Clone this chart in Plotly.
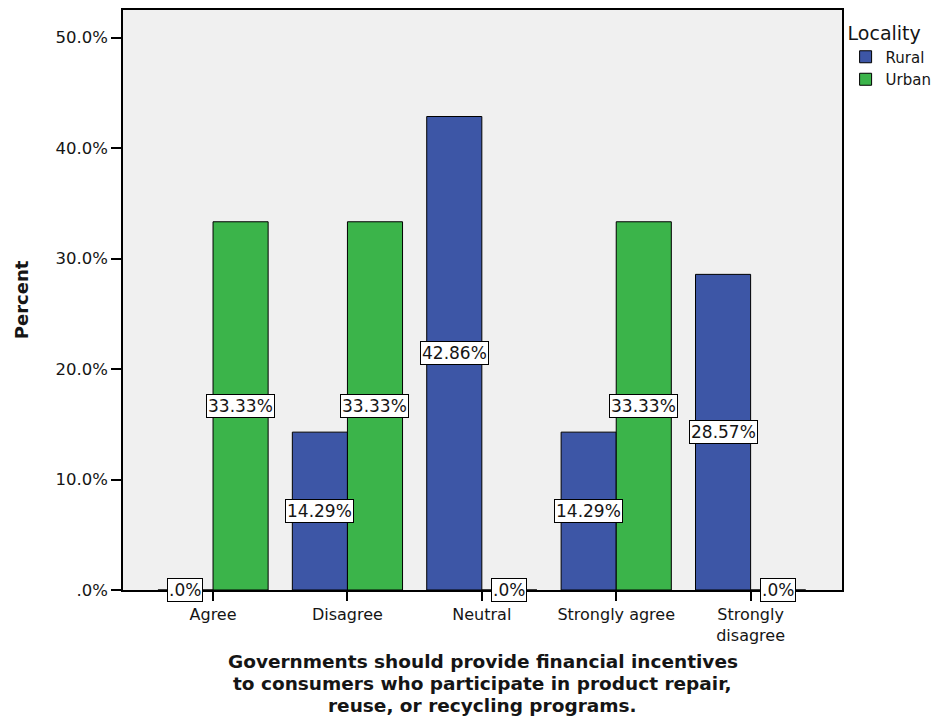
import plotly.graph_objects as go

categories = ["Agree", "Disagree", "Neutral", "Strongly agree", "Strongly disagree"]
tick_labels = ["Agree", "Disagree", "Neutral", "Strongly agree", "Strongly<br>disagree"]
rural = [0.0, 14.29, 42.86, 14.29, 28.57]
urban = [33.33, 33.33, 0.0, 33.33, 0.0]
y_ticks = [0, 10, 20, 30, 40, 50]
y_tick_text = [".0%", "10.0%", "20.0%", "30.0%", "40.0%", "50.0%"]
x_title_lines = ["Governments should provide financial incentives",
                 "to consumers who participate in product repair,",
                 "reuse, or recycling programs."]

BLUE = "#3D56A6"
GREEN = "#3BB44A"
FONT = "DejaVu Sans"
TXT = "#151515"

# page body adds an 8px offset; margins compensate
ML, MT, MB = 115, 2, 135
H = 717
PLOT_H = H - MT - MB

fig = go.Figure()
fig.add_trace(go.Bar(name="Rural", x=list(range(len(categories))), y=rural,
                     marker=dict(color=BLUE, line=dict(color="black", width=1))))
fig.add_trace(go.Bar(name="Urban", x=list(range(len(categories))), y=urban,
                     marker=dict(color=GREEN, line=dict(color="black", width=1))))

def fmt(v):
    return ".0%" if v == 0 else f"{v:.2f}%"

annotations = []
half = 0.41 / 2
for i in range(len(categories)):
    for vals, off in ((rural, -half), (urban, half)):
        v = vals[i]
        annotations.append(dict(
            x=i + off, y=v / 2, xref="x", yref="y", text=fmt(v), showarrow=False,
            font=dict(family=FONT, size=17, color=TXT),
            bgcolor="white", bordercolor="black", borderwidth=1, borderpad=1,
            xanchor="center", yanchor="middle"))

# x-axis title lines, centred at screen y 661, 683, 705 (figure y minus 8)
for k, line in enumerate(x_title_lines):
    fy = 661 + 22 * k - 8
    annotations.append(dict(
        x=0.5, y=(H - MB - fy) / PLOT_H, xref="paper", yref="paper",
        text="<b>" + line + "</b>", showarrow=False,
        xanchor="center", yanchor="middle",
        font=dict(family=FONT, size=18.5, color=TXT)))

fig.update_layout(
    width=940, height=H,
    margin=dict(l=ML, r=106, t=MT, b=MB, autoexpand=False),
    paper_bgcolor="white", plot_bgcolor="#F0F0F0",
    barmode="group", bargap=0.18, bargroupgap=0,
    font=dict(family=FONT, color=TXT),
    showlegend=True,
    legend=dict(title=dict(text="Locality", font=dict(family=FONT, size=19)),
                font=dict(family=FONT, size=15),
                x=1.005, y=0.99, xanchor="left", yanchor="top",
                bgcolor="rgba(0,0,0,0)", tracegroupgap=0),
    annotations=annotations,
)
fig.update_xaxes(
    range=[-0.67, 4.68], tickmode="array", tickvals=list(range(len(categories))),
    ticktext=tick_labels, tickfont=dict(family=FONT, size=16),
    ticks="outside", ticklen=9, tickcolor="black", tickwidth=1.5,
    showline=True, linecolor="black", linewidth=1.5, mirror=True,
    showgrid=False, zeroline=False, automargin=False)
fig.update_yaxes(
    range=[0, 52.5], tickmode="array", tickvals=y_ticks, ticktext=y_tick_text,
    tickfont=dict(family=FONT, size=16.5),
    ticks="outside", ticklen=10, tickcolor="black", tickwidth=1.5,
    showline=True, linecolor="black", linewidth=1.5, mirror=True,
    showgrid=False, zeroline=False, automargin=False,
    title=dict(text="<b>Percent</b>", font=dict(family=FONT, size=18), standoff=22))

fig.write_html("out.html")
